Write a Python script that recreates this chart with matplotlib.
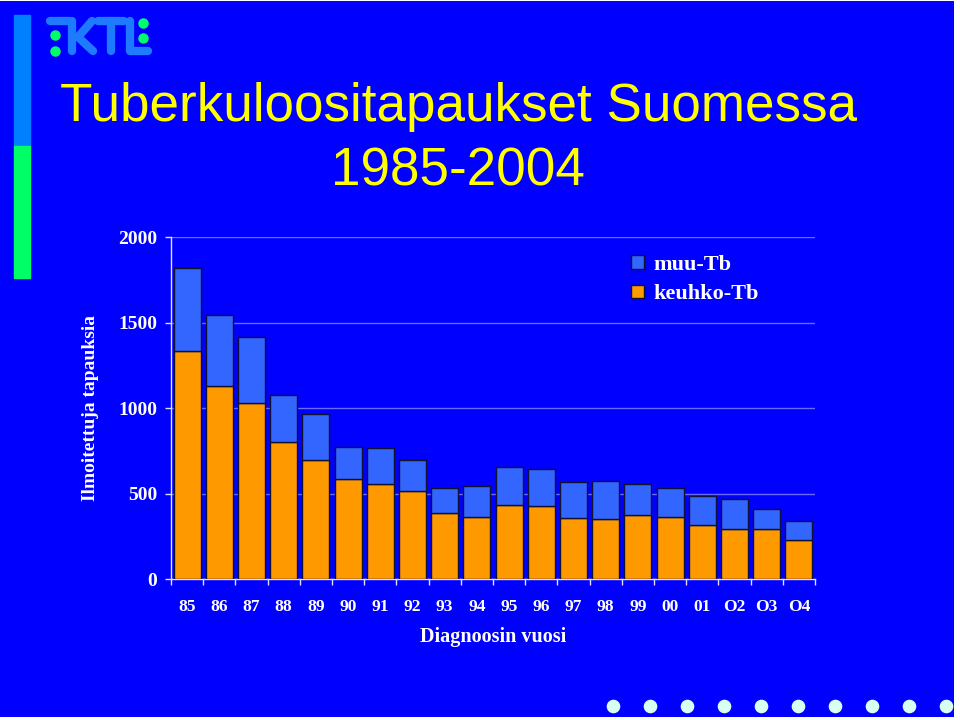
import numpy as np
import matplotlib
matplotlib.use("Agg")
import matplotlib.pyplot as plt
from matplotlib.patches import Rectangle
from matplotlib.lines import Line2D

# data
vuodet = ["85", "86", "87", "88", "89", "90", "91", "92", "93", "94",
          "95", "96", "97", "98", "99", "00", "01", "O2", "O3", "O4"]
keuhko = [1333, 1128, 1030, 804, 700, 585, 558, 519, 390, 365,
          435, 431, 361, 351, 375, 365, 316, 296, 293, 230]
muu = [485, 415, 387, 271, 268, 186, 211, 179, 143, 183,
       224, 213, 207, 223, 183, 168, 172, 174, 117, 113]

BG = "#0000FF"
W, H = 960, 720

def fx(x):
    return x / W

def fy(y):
    return 1 - y / H

fig = plt.figure(figsize=(9.6, 7.2), dpi=100)
fig.patch.set_facecolor("white")
# blue slide area (thin white edge right/bottom like the source)
fig.add_artist(Rectangle((0, fy(717)), fx(954), fy(1) - fy(717),
                         transform=fig.transFigure, facecolor=BG,
                         edgecolor="none", zorder=0))

# logo strip at left
fig.add_artist(Rectangle((fx(14), fy(146)), fx(16), fy(15) - fy(146),
                         transform=fig.transFigure, color="#0080FF", zorder=1))
fig.add_artist(Rectangle((fx(14), fy(278)), fx(16), fy(146) - fy(278),
                         transform=fig.transFigure, color="#00FF66", zorder=1))

# KTL logo, rough strokes
logo_col = "#1E7BFF"
strokes = [
    [(50, 21), (70, 21)],
    [(72, 21), (72, 51)],
    [(92, 21), (78, 37), (93, 51)],
    [(98, 21), (124, 21)],
    [(111, 21), (111, 51)],
    [(130, 21), (130, 51), (148, 51)],
]
for s in strokes:
    xs = [fx(p[0]) for p in s]
    ys = [fy(p[1]) for p in s]
    fig.add_artist(Line2D(xs, ys, transform=fig.transFigure, color=logo_col,
                          lw=6, solid_capstyle="round", solid_joinstyle="round"))
for (x, y) in [(55, 35), (55, 51), (143, 23), (143, 38)]:
    fig.add_artist(Line2D([fx(x)], [fy(y)], transform=fig.transFigure,
                          marker="o", markersize=6.5, color="#00FF66", lw=0))

# title
fig.text(fx(459), fy(107), "Tuberkuloositapaukset Suomessa", color="#FFFF00",
         fontsize=38.2, family="Liberation Sans", ha="center", va="center")
fig.text(fx(458), fy(171), "1985-2004", color="#FFFF00",
         fontsize=38.2, family="Liberation Sans", ha="center", va="center")

# bottom dots
for i in range(10):
    fig.add_artist(Line2D([fx(613 + 37 * i)], [fy(706)], transform=fig.transFigure,
                          marker="o", markersize=8.8, color="#D8FFF0", lw=0))

# chart
ax = fig.add_axes([fx(171), fy(579.3), fx(815) - fx(171), fy(237.3) - fy(579.3)])
ax.set_facecolor("none")
x = np.arange(len(vuodet))
ax.bar(x, keuhko, width=0.84, color="#FF9900", edgecolor="#101030", lw=1,
       label="keuhko-Tb", zorder=3)
ax.bar(x, muu, width=0.84, bottom=keuhko, color="#3366FF", edgecolor="#101030",
       lw=1, label="muu-Tb", zorder=3)

ax.set_xlim(-0.5, len(vuodet) - 0.5)
ax.set_ylim(0, 2000)
ax.set_yticks([0, 500, 1000, 1500, 2000])
ax.yaxis.grid(True, color="#6A6AFF", lw=1, zorder=0)
ax.set_axisbelow(True)

ax.set_xticks(x)
ax.set_xticklabels(vuodet)
ax.set_xticks(np.arange(-0.5, len(vuodet)), minor=True)
ax.tick_params(axis="x", which="major", length=0, pad=14)
ax.tick_params(axis="x", which="minor", length=4, color="#E0E0FF", width=1)
ax.tick_params(axis="y", length=4, color="#E0E0FF", width=1, pad=6)

for lab in ax.get_xticklabels():
    lab.set_family("Liberation Serif")
    lab.set_fontweight("bold")
    lab.set_fontsize(12.5)
    lab.set_color("white")
for lab in ax.get_yticklabels():
    lab.set_family("Liberation Serif")
    lab.set_fontweight("bold")
    lab.set_fontsize(14)
    lab.set_color("white")

for side in ["top", "right"]:
    ax.spines[side].set_visible(False)
for side in ["left", "bottom"]:
    ax.spines[side].set_color("#E0E0FF")
    ax.spines[side].set_linewidth(1)

ax.set_xlabel("Diagnoosin vuosi", family="Liberation Serif", fontweight="bold",
              fontsize=14.5, color="white", labelpad=9)
ax.set_ylabel("Ilmoitettuja tapauksia", family="Liberation Serif", fontweight="bold",
              fontsize=14, color="white", labelpad=14)

handles, labels = ax.get_legend_handles_labels()
leg = ax.legend(handles[::-1], labels[::-1], loc="upper left",
                bbox_to_anchor=(0.684, 1.007), frameon=False,
                handlelength=0.55, handleheight=0.55, handletextpad=0.45,
                labelspacing=0.42,
                prop={"family": "Liberation Serif", "weight": "bold", "size": 16})
for t in leg.get_texts():
    t.set_color("white")

fig.savefig("out.png", dpi=100, facecolor=fig.get_facecolor())
